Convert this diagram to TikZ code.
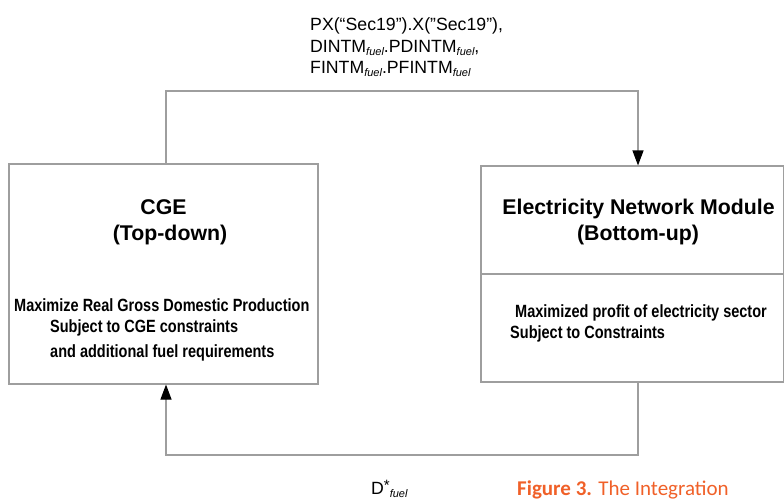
\documentclass[tikz,border=0pt]{standalone}
\usepackage{fontspec}
\usepackage{tikz}
\usetikzlibrary{arrows.meta}
\setmainfont{Liberation Sans}
\newfontfamily\narrowfont[FakeStretch=0.82]{Liberation Sans}
\newfontfamily\capfont{Carlito}
\definecolor{linegray}{gray}{0.62}
\definecolor{capred}{RGB}{240,96,40}
% italic subscript "fuel"
\def\fuel{\raisebox{-3.5pt}{\fontsize{11}{11}\selectfont\itshape fuel}}
\tikzset{
	box/.style={draw=linegray,line width=1.1pt,inner sep=0pt},
	link/.style={draw=linegray,line width=1.1pt,
		-{Triangle[width=11pt,length=15pt,color=black]}},
	head/.style={font=\fontsize{21.3}{24}\selectfont\bfseries,anchor=base,inner sep=0pt},
	body/.style={font=\narrowfont\fontsize{17.7}{21}\selectfont\bfseries,anchor=base west,inner sep=0pt},
	lab/.style={font=\fontsize{17.7}{21}\selectfont,anchor=base west,inner sep=0pt}
}

\begin{document}
\begin{tikzpicture}[x=1pt,y=-1pt]
	\useasboundingbox (0,0) rectangle (784,499);
	% the two modules
	\node[box,minimum width=309pt,minimum height=220pt] (cge) at (163.5,274) {};
	\node[box,minimum width=302.5pt,minimum height=216pt] (enm) at (632.25,274) {};
	\draw[draw=linegray,line width=1.1pt] (enm.west) -- (enm.east);
	
	\node[head] (cgeA) at (163.5,214) {CGE};
	\node[head] (cgeB) at (170,240) {(Top-down)};
	\node[body] (cgeC) at (14,311) {Maximize Real Gross Domestic Production};
	\node[body] (cgeD) at (50,332) {Subject to CGE constraints};
	\node[body] (cgeE) at (50,357) {and additional fuel requirements};
	
	\node[head] (enmA) at (638.5,214) {Electricity Network Module};
	\node[head] (enmB) at (638,240) {(Bottom-up)};
	\node[body] (enmC) at (515,317) {Maximized profit of electricity sector};
	\node[body] (enmD) at (510,338) {Subject to Constraints};
	
	% top loop, CGE -> network module
	\coordinate (tl) at (166,91);
	\coordinate (tr) at (638,91);
	\draw[link] (cge.north -| tl) -- (tl) -- (tr) -- (enm.north -| tr);
	\node[lab] (px) at (310,30) {PX(“Sec19”).X(”Sec19"),};
	\node[lab] (dintm) at (310,52) {DINTM\fuel.PDINTM\fuel,};
	\node[lab] (fintm) at (310,73) {FINTM\fuel.PFINTM\fuel};
	
	% bottom loop, network module -> CGE
	\coordinate (br) at (638,455);
	\coordinate (bl) at (166,455);
	\draw[link] (enm.south -| br) -- (br) -- (bl) -- (cge.south -| bl);
	\node[lab] (dstar) at (371,494) {D\raisebox{4pt}{\fontsize{15}{15}\selectfont *}\fuel};
	
	\node[font=\capfont\fontsize{21}{24}\selectfont,text=capred,anchor=base west,inner sep=0pt]
		(fig) at (517,495) {\textbf{Figure 3.} The Integration};
\end{tikzpicture}
\end{document}
